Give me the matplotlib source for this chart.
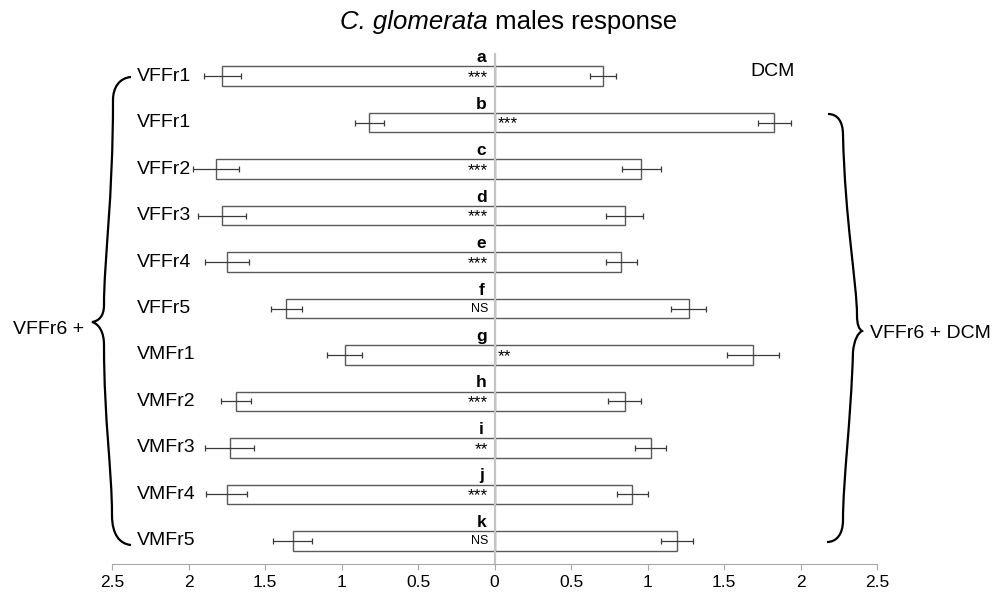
import matplotlib.pyplot as plt
from matplotlib.path import Path
from matplotlib.patches import PathPatch
from matplotlib.transforms import blended_transform_factory
import numpy as np

plt.rcParams['font.family'] = ['Liberation Sans', 'DejaVu Sans']

# data
row_labels = ['VFFr1', 'VFFr1', 'VFFr2', 'VFFr3', 'VFFr4', 'VFFr5',
              'VMFr1', 'VMFr2', 'VMFr3', 'VMFr4', 'VMFr5']
letters = ['a', 'b', 'c', 'd', 'e', 'f', 'g', 'h', 'i', 'j', 'k']
left_vals = [1.78, 0.82, 1.82, 1.78, 1.75, 1.36, 0.98, 1.69, 1.73, 1.75, 1.32]
left_err = [0.12, 0.095, 0.15, 0.155, 0.145, 0.10, 0.115, 0.10, 0.16, 0.135, 0.13]
right_vals = [0.71, 1.83, 0.96, 0.85, 0.83, 1.27, 1.69, 0.85, 1.02, 0.90, 1.19]
right_err = [0.085, 0.11, 0.125, 0.12, 0.10, 0.115, 0.17, 0.11, 0.10, 0.10, 0.105]
signif = ['***', '***', '***', '***', '***', 'NS', '**', '***', '**', '***', 'NS']
signif_side = ['L', 'R', 'L', 'L', 'L', 'L', 'R', 'L', 'L', 'L', 'L']
ticks = [-2.5, -2, -1.5, -1, -0.5, 0, 0.5, 1, 1.5, 2, 2.5]

W, H = 1005, 598
fig = plt.figure(figsize=(W / 100, H / 100), dpi=100)
ax = fig.add_axes([112 / W, 1 - 564 / H, (877 - 112) / W, (564 - 53) / H])

y = np.arange(len(row_labels))
bh = 0.42
edge = '#5a5a5a'
ax.barh(y, [-v for v in left_vals], height=bh, color='white', edgecolor=edge, linewidth=1.0, zorder=2)
ax.barh(y, right_vals, height=bh, color='white', edgecolor=edge, linewidth=1.0, zorder=2)
ax.errorbar([-v for v in left_vals], y, xerr=left_err, fmt='none', ecolor='#3a3a3a',
            elinewidth=0.9, capsize=2.5, capthick=0.9, zorder=3)
ax.errorbar(right_vals, y, xerr=right_err, fmt='none', ecolor='#3a3a3a',
            elinewidth=0.9, capsize=2.5, capthick=0.9, zorder=3)
ax.axvline(0, color='#c4c4c4', lw=1.6, zorder=4)

lab_trans = blended_transform_factory(fig.transFigure, ax.transData)
for i in range(len(row_labels)):
    ax.text(-0.085, y[i] - bh / 2 - 0.09, letters[i], ha='center', va='baseline',
            fontsize=12.5, fontweight='bold')
    fs = 9 if signif[i] == 'NS' else 12.5
    dy = 0 if signif[i] == 'NS' else 0.03
    if signif_side[i] == 'L':
        ax.text(-0.04, y[i] + dy, signif[i], ha='right', va='center', fontsize=fs)
    else:
        ax.text(0.02, y[i] + dy, signif[i], ha='left', va='center', fontsize=fs)
    fig.text(137 / W, y[i], row_labels[i], ha='left', va='center', fontsize=14,
             transform=lab_trans)

ax.set_xlim(-2.5, 2.5)
ax.set_ylim(len(row_labels) - 0.5, -0.5)
ax.set_xticks(ticks)
ax.set_xticklabels([f'{abs(t):g}' for t in ticks], fontsize=12.5)
ax.set_yticks([])
for s in ['left', 'right', 'top']:
    ax.spines[s].set_visible(False)
ax.spines['bottom'].set_color('#a8a8a8')
ax.tick_params(axis='x', length=4, color='#a8a8a8', pad=4)

# title: italic species name followed by plain text
t1 = fig.text(340 / W, 1 - 22 / H, 'C. glomerata', fontsize=18.5, style='italic',
              ha='left', va='center')
fig.canvas.draw()
bb = t1.get_window_extent()
fig.text(bb.x1 / W, 1 - 22 / H, ' males response', fontsize=18.5, ha='left', va='center')

fig.text(750 / W, 1 - 72 / H, 'DCM', fontsize=14, ha='left', va='center')
fig.text(13 / W, 1 - 329 / H, 'VFFr6 +', fontsize=14, ha='left', va='center')
fig.text(870 / W, 1 - 333 / H, 'VFFr6 + DCM', fontsize=14, ha='left', va='center')


def brace(pts):
    verts = [(px / W, 1 - py / H) for px, py in pts]
    codes = [Path.MOVETO] + [Path.CURVE4] * (len(verts) - 1)
    fig.patches.append(PathPatch(Path(verts, codes), transform=fig.transFigure,
                                 fill=False, lw=1.6, color='black'))


brace([(131, 77), (119, 78), (113, 88), (113, 100),
       (113, 200), (104, 260), (104, 305),
       (104, 316), (99, 321), (92, 322),
       (99, 324), (104, 332), (104, 345),
       (104, 420), (112, 470), (112, 515),
       (112, 535), (120, 544), (131, 545)])
brace([(828, 114), (838, 114), (843, 122), (843, 135),
       (845, 220), (857, 285), (857, 315),
       (857, 325), (859, 329), (862, 331),
       (858, 333), (854, 340), (853, 352),
       (851, 420), (843, 480), (843, 520),
       (843, 535), (836, 542), (827, 542)])

fig.savefig('out.png', dpi=100)
